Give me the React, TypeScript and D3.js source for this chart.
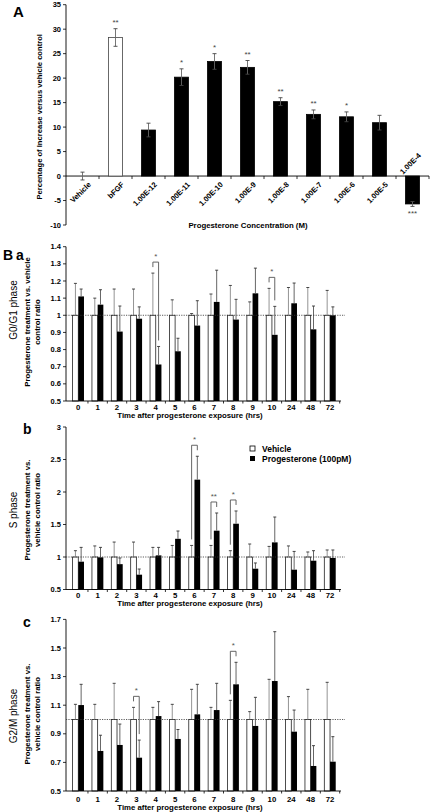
import React from "react";
import * as d3 from "d3";

// ---------- Panel A data ----------
const aCategories = ["Vehicle", "bFGF", "1.00E-12", "1.00E-11", "1.00E-10", "1.00E-9", "1.00E-8", "1.00E-7", "1.00E-6", "1.00E-5", "1.00E-4"];
const aValues = [0, 28.3, 9.4, 20.2, 23.4, 22.2, 15.2, 12.6, 12.1, 10.9, -5.7];
const aErrors = [0.8, 1.8, 1.4, 1.7, 1.6, 1.4, 0.8, 0.9, 1.0, 1.5, 0.5];
const aStars = ["", "**", "", "*", "*", "**", "**", "**", "*", "", "***"];
const aTicks = [-10, -5, 0, 5, 10, 15, 20, 25, 30, 35];

// ---------- Panel B shared ----------
const hours = ["0", "1", "2", "3", "4", "5", "6", "7", "8", "9", "10", "24", "48", "72"];
const seriesNames = ["Vehicle", "Progesterone (100pM)"];

// B a : G0/G1 phase
const g1VehicleErr = [0.186, 0.1, 0.153, 0.153, 0.246, 0.09, 0.01, 0.124, 0.174, 0.078, 0.157, 0.162, 0.162, 0.145];
const g1ProgValues = [1.11, 1.062, 0.905, 0.98, 0.713, 0.79, 0.94, 1.078, 0.975, 1.128, 0.886, 1.07, 0.918, 1.0];
const g1ProgErr = [0.043, 0.087, 0.149, 0.069, 0.105, 0.076, 0.145, 0.185, 0.118, 0.147, 0.166, 0.118, 0.136, 0.049];
const g1Stars = ["", "", "", "", "*", "", "", "", "", "", "*", "", "", ""];
const g1Ticks = [0.5, 0.6, 0.7, 0.8, 0.9, 1, 1.1, 1.2, 1.3, 1.4];

// B b : S phase
const sVehicleErr = [0.097, 0.17, 0.23, 0.23, 0.148, 0.178, 0.178, 0.178, 0.097, 0.2, 0.163, 0.17, 0.077, 0.108];
const sProgValues = [0.928, 0.995, 0.89, 0.728, 1.025, 1.28, 2.19, 1.405, 1.512, 0.82, 1.225, 0.805, 0.943, 0.985];
const sProgErr = [0.22, 0.153, 0.095, 0.087, 0.123, 0.12, 0.36, 0.272, 0.196, 0.088, 0.39, 0.281, 0.154, 0.123];
const sStars = ["", "", "", "", "", "", "*", "**", "*", "", "", "", "", ""];
const sTicks = [0.5, 1, 1.5, 2, 2.5, 3];

// B c : G2/M phase
const mVehicleErr = [0.106, 0.106, 0.253, 0.085, 0.085, 0.106, 0.211, 0.085, 0.134, 0.055, 0.281, 0.16, 0.211, 0.26];
const mProgValues = [1.101, 0.78, 0.822, 0.733, 1.024, 0.864, 1.036, 1.066, 1.246, 0.955, 1.269, 0.915, 0.675, 0.705];
const mProgErr = [0.145, 0.11, 0.146, 0.123, 0.101, 0.066, 0.21, 0.187, 0.154, 0.2, 0.345, 0.151, 0.142, 0.175];
const mStars = ["", "", "", "*", "", "", "", "", "*", "", "", "", "", ""];
const mTicks = [0.5, 0.7, 0.9, 1.1, 1.3, 1.5, 1.7];

const FONT = "'Liberation Sans', Arial, Helvetica, sans-serif";
const fmt = (t: number) => String(+t.toFixed(2));

function PanelA() {
  const y = d3.scaleLinear().domain([-10, 35]).range([225, 4.7]);
  const x = d3.scaleBand<string>().domain(aCategories).range([66, 429]).padding(0);
  const bw = 14;
  const y0 = y(0);
  return (
    <g fontFamily={FONT}>
      <text x={13} y={17} fontSize={15} fontWeight="bold">A</text>
      {/* y axis */}
      <line x1={66} x2={66} y1={y(35)} y2={y(-10)} stroke="#000" strokeWidth={0.9} />
      {aTicks.map((t) => (
        <g key={t}>
          <line x1={63} x2={66} y1={y(t)} y2={y(t)} stroke="#000" strokeWidth={0.8} />
          <text x={61} y={y(t)} dy="0.35em" textAnchor="end" fontSize={7.5} fontWeight="bold">{t}</text>
        </g>
      ))}
      <text transform={`translate(41.5,${(y(35) + y(-10)) / 2 + 2}) rotate(-90)`} textAnchor="middle" fontSize={7.6} fontWeight="bold">
        Percentage of Increase versus vehicle control
      </text>
      {/* x axis */}
      <line x1={66} x2={429} y1={y0} y2={y0} stroke="#000" strokeWidth={0.9} />
      {aCategories.map((c) => (
        <line key={c} x1={(x(c) as number) + x.bandwidth()} x2={(x(c) as number) + x.bandwidth()} y1={y0} y2={y0 + 3} stroke="#000" strokeWidth={0.8} />
      ))}
      {/* bars */}
      {aCategories.map((c, i) => {
        const cx = (x(c) as number) + x.bandwidth() / 2;
        const v = aValues[i];
        const e = aErrors[i];
        const isBar = i > 0;
        const white = i === 1;
        return (
          <g key={c}>
            {isBar && (
              <rect x={cx - bw / 2} y={Math.min(y(v), y0)} width={bw} height={Math.abs(y(v) - y0)}
                fill={white ? "#fff" : "#000"} stroke={white ? "#444" : "#000"} strokeWidth={0.8} />
            )}
            <line x1={cx} x2={cx} y1={y(v - e)} y2={y(v + e)} stroke="#666" strokeWidth={0.9} />
            <line x1={cx - 2} x2={cx + 2} y1={y(v + e)} y2={y(v + e)} stroke="#444" strokeWidth={0.9} />
            <line x1={cx - 2} x2={cx + 2} y1={y(v - e)} y2={y(v - e)} stroke="#444" strokeWidth={0.9} />
            {aStars[i] && (
              <text x={cx} y={v >= 0 ? y(v + e) - 4 : y(v - e) + 10} textAnchor="middle" fontSize={8} fill="#444">{aStars[i]}</text>
            )}
            <text transform={v >= 0 ? `translate(${cx + 9},${y0 + 9}) rotate(-45)` : `translate(${cx + 9},${y0 - 20}) rotate(-45)`}
              textAnchor="end" fontSize={7.5} fontWeight="bold">{c}</text>
          </g>
        );
      })}
      <text x={248} y={228} textAnchor="middle" fontSize={7.8} fontWeight="bold">Progesterone Concentration (M)</text>
    </g>
  );
}

type BProps = {
  vehErr: number[];
  progVal: number[];
  progErr: number[];
  stars: string[];
  ticks: number[];
  yDomain: [number, number];
  yRange: [number, number];
  letter: string;
  letterX: number;
  letterY: number;
  phase: string;
  phaseY: number;
  line1: string;
  line2: string;
  labelY: number;
  tickLabelDy: number;
  titleDy: number;
  legend?: boolean;
};

function PanelB(p: BProps) {
  const y = d3.scaleLinear().domain(p.yDomain).range(p.yRange);
  const x = d3.scaleBand<string>().domain(hours).range([68.6, 339.7]).padding(0);
  const inner = d3.scaleBand<string>().domain(seriesNames).range([0, 11.4]).padding(0);
  const bw = inner.bandwidth();
  const yb = y(p.yDomain[0]);
  const yTop = y(p.yDomain[1]);
  const y1 = y(1);
  return (
    <g fontFamily={FONT}>
      <text x={p.letterX} y={p.letterY} fontSize={14} fontWeight="bold">{p.letter}</text>
      <text transform={`translate(16.5,${p.phaseY}) rotate(-90)`} textAnchor="middle" fontSize={10}>{p.phase}</text>
      <text transform={`translate(30,${p.labelY}) rotate(-90)`} textAnchor="middle" fontSize={7.8} fontWeight="bold">{p.line1}</text>
      <text transform={`translate(39.5,${p.labelY}) rotate(-90)`} textAnchor="middle" fontSize={7.8} fontWeight="bold">{p.line2}</text>
      {/* y axis */}
      <line x1={66} x2={66} y1={yTop} y2={yb} stroke="#000" strokeWidth={0.9} />
      {p.ticks.map((t) => (
        <g key={t}>
          <line x1={63} x2={66} y1={y(t)} y2={y(t)} stroke="#000" strokeWidth={0.8} />
          <text x={61} y={y(t)} dy="0.35em" textAnchor="end" fontSize={7.5} fontWeight="bold">{fmt(t)}</text>
        </g>
      ))}
      {/* bars */}
      {hours.map((h, i) => {
        const gx = (x(h) as number) + (x.bandwidth() - 11.4) / 2;
        const wx = gx + (inner(seriesNames[0]) as number);
        const bx = gx + (inner(seriesNames[1]) as number);
        const wc = wx + bw / 2;
        const bc = bx + bw / 2;
        const wTop = y(1 + p.vehErr[i]);
        const bTop = y(p.progVal[i] + p.progErr[i]);
        const bracketTop = Math.min(wTop, bTop) - 11;
        return (
          <g key={h}>
            <rect x={wx} y={y1} width={bw} height={yb - y1} fill="#fff" stroke="#222" strokeWidth={0.8} />
            <line x1={wc} x2={wc} y1={y1} y2={wTop} stroke="#888" strokeWidth={0.9} />
            <line x1={wc - 1.5} x2={wc + 1.5} y1={wTop} y2={wTop} stroke="#333" strokeWidth={0.9} />
            <rect x={bx} y={y(p.progVal[i])} width={bw} height={yb - y(p.progVal[i])} fill="#000" />
            <line x1={bc} x2={bc} y1={y(p.progVal[i])} y2={bTop} stroke="#555" strokeWidth={0.9} />
            <line x1={bc - 1.5} x2={bc + 1.5} y1={bTop} y2={bTop} stroke="#333" strokeWidth={0.9} />
            {p.stars[i] && (
              <g>
                <path d={`M${wc},${wTop - 6}V${bracketTop}H${bc}V${bTop - 6}`} fill="none" stroke="#555" strokeWidth={0.9} />
                <text x={(wc + bc) / 2} y={bracketTop - 3} textAnchor="middle" fontSize={8} fill="#555">{p.stars[i]}</text>
              </g>
            )}
            <line x1={(x(h) as number) + x.bandwidth()} x2={(x(h) as number) + x.bandwidth()} y1={yb} y2={yb + 2.5} stroke="#000" strokeWidth={0.8} />
            <text x={(x(h) as number) + x.bandwidth() / 2} y={yb + p.tickLabelDy} textAnchor="middle" fontSize={7.8} fontWeight="bold">{h}</text>
          </g>
        );
      })}
      <line x1={66} x2={345} y1={y1} y2={y1} stroke="#333" strokeWidth={0.8} strokeDasharray="1.2,1.2" />
      {/* x axis */}
      <line x1={66} x2={341} y1={yb} y2={yb} stroke="#000" strokeWidth={0.9} />
      <text x={190} y={yb + p.titleDy} textAnchor="middle" fontSize={7.8} fontWeight="bold">Time after progesterone exposure (hrs)</text>
      {p.legend && (
        <g fontSize={8.5} fontWeight="bold">
          <rect x={250} y={446} width={5} height={5} fill="#fff" stroke="#000" strokeWidth={0.8} />
          <text x={262} y={452}>{seriesNames[0]}</text>
          <rect x={250} y={456} width={5} height={5} fill="#000" />
          <text x={262} y={462}>{seriesNames[1]}</text>
        </g>
      )}
    </g>
  );
}

export default function App() {
  return (
    <svg width={433} height={812} style={{ position: "absolute", left: 0, top: 0, background: "#fff" }}>
      <rect width={433} height={812} fill="#fff" />
      <PanelA />
      <text x={3} y={260} fontSize={14} fontWeight="bold" fontFamily={FONT}>B</text>
      <PanelB vehErr={g1VehicleErr} progVal={g1ProgValues} progErr={g1ProgErr} stars={g1Stars} ticks={g1Ticks}
        yDomain={[0.5, 1.4]} yRange={[401, 246.7]} letter="a" letterX={16} letterY={260}
        phase="G0/G1 phase" phaseY={310} line1="Progesterone treatment vs. vehicle" line2="control ratio" labelY={322}
        tickLabelDy={9} titleDy={16.5} />
      <PanelB vehErr={sVehicleErr} progVal={sProgValues} progErr={sProgErr} stars={sStars} ticks={sTicks}
        yDomain={[0.5, 3]} yRange={[589.5, 427]} letter="b" letterX={23} letterY={434}
        phase="S phase" phaseY={510} line1="Progesterone treatment vs." line2="vehicle control ratio" labelY={510}
        tickLabelDy={8.5} titleDy={16} legend />
      <PanelB vehErr={mVehicleErr} progVal={mProgValues} progErr={mProgErr} stars={mStars} ticks={mTicks}
        yDomain={[0.5, 1.7]} yRange={[791, 619.4]} letter="c" letterX={23} letterY={627}
        phase="G2/M phase" phaseY={716} line1="Progesterone treatment vs." line2="vehicle control ratio" labelY={714}
        tickLabelDy={10.5} titleDy={19} />
    </svg>
  );
}
